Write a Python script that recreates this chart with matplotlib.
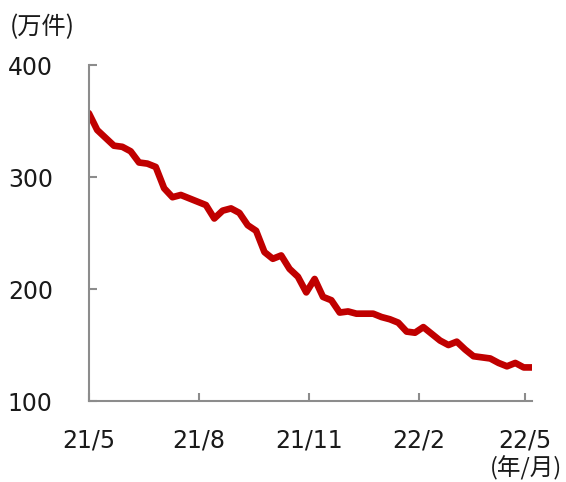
import matplotlib
matplotlib.use('Agg')
import matplotlib.pyplot as plt
import pandas as pd

# 週次データ（万件）
fechas = pd.date_range('2021-05-01', periods=54, freq='7D')
valores = [357, 342, 335, 328, 327, 323, 313, 312, 309, 290,
           282, 284, 281, 278, 275, 263, 270, 272, 268, 257,
           252, 233, 227, 230, 218, 211, 197, 209, 193, 190,
           179, 180, 178, 178, 178, 175, 173, 170, 162, 161,
           166, 160, 154, 150, 153, 146, 140, 139, 138, 134,
           131, 134, 130, 130]
ticks_x = pd.to_datetime(['2021-05-01', '2021-08-01', '2021-11-01',
                          '2022-02-01', '2022-05-01'])
etiquetas_x = ['21/5', '21/8', '21/11', '22/2', '22/5']
ticks_y = [100, 200, 300, 400]

plt.rcParams['font.family'] = ['DejaVu Sans', 'Noto Sans CJK JP']

fig = plt.figure(figsize=(5.66, 4.82), dpi=100)
ax = fig.add_axes([0.157, 0.168, 0.783, 0.697])

ax.plot(fechas, valores, color='#C00000', linewidth=4.8, solid_capstyle='round',
        solid_joinstyle='round')

ax.set_ylim(100, 400)
ax.set_xlim(fechas[0], fechas[-1])
ax.set_yticks(ticks_y)
ax.set_xticks(ticks_x)
ax.set_xticklabels(etiquetas_x)

for s in ['top', 'right']:
    ax.spines[s].set_visible(False)
for s in ['left', 'bottom']:
    ax.spines[s].set_color('#8c8c8c')
    ax.spines[s].set_linewidth(1.5)

ax.tick_params(axis='both', direction='in', length=6, width=1.5,
               color='#8c8c8c', labelsize=17, labelcolor='#1a1a1a')
ax.tick_params(axis='y', pad=26)
ax.tick_params(axis='x', pad=20)

fig.text(10 / 566, 1 - 27 / 482, '(万件)', fontsize=17.5, family=['Noto Sans CJK JP'],
         color='#1a1a1a', va='center', ha='left')
fig.text(562 / 566, 1 - 468 / 482, '(年/月)', fontsize=17, family=['Noto Sans CJK JP'],
         color='#1a1a1a', va='center', ha='right')

fig.savefig('out.png', dpi=100)
